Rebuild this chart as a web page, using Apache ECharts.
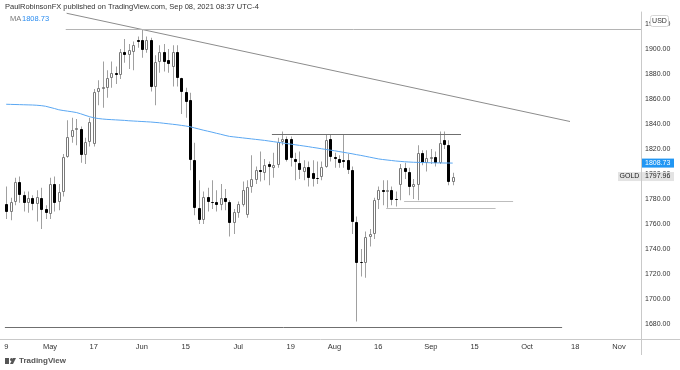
<!DOCTYPE html>
<html><head><meta charset="utf-8">
<script src="https://cdn.jsdelivr.net/npm/echarts@6/dist/echarts.min.js"></script>
<style>html,body{margin:0;padding:0;background:#fff}#c{width:680px;height:370px}</style>
</head><body><div id="c"></div>
<script>
// ---- data ----
const dates = ["Apr 19","Apr 20","Apr 21","Apr 22","Apr 23","Apr 26","Apr 27","Apr 28","Apr 29","Apr 30",
"May 3","May 4","May 5","May 6","May 7","May 10","May 11","May 12","May 13","May 14","May 17","May 18","May 19","May 20","May 21","May 24","May 25","May 26","May 27","May 28","May 31",
"Jun 1","Jun 2","Jun 3","Jun 4","Jun 7","Jun 8","Jun 9","Jun 10","Jun 11","Jun 14","Jun 15","Jun 16","Jun 17","Jun 18","Jun 21","Jun 22","Jun 23","Jun 24","Jun 25","Jun 28","Jun 29","Jun 30",
"Jul 1","Jul 2","Jul 5","Jul 6","Jul 7","Jul 8","Jul 9","Jul 12","Jul 13","Jul 14","Jul 15","Jul 16","Jul 19","Jul 20","Jul 21","Jul 22","Jul 23","Jul 26","Jul 27","Jul 28","Jul 29","Jul 30",
"Aug 2","Aug 3","Aug 4","Aug 5","Aug 6","Aug 9","Aug 10","Aug 11","Aug 12","Aug 13","Aug 16","Aug 17","Aug 18","Aug 19","Aug 20","Aug 23","Aug 24","Aug 25","Aug 26","Aug 27","Aug 30","Aug 31",
"Sep 1","Sep 2","Sep 3","Sep 6","Sep 7","Sep 8"];
const firstDay = -10; // trading-day number of Apr 19 (May 3 = 0)
const opens = [1776,1770,1778,1794,1783,1777,1781,1776,1781,1772,
1768,1792,1778,1786,1814,1830,1835,1836,1815,1826,1824,1866,1868,1869,1877,1881,1879,1898,1895,1898,1907.5,
1907,1899,1907,1870,1890,1898,1891,1886,1898,1877,1866,1859,1811,1773,1763,1782,1778,1778,1775,1781,1778,1761,
1769,1775,1767,1790,1795,1803,1801,1808,1805,1807,1826,1828,1828,1812,1809,1802,1806,1801,1797,1798,1806,1828,
1814,1812,1811,1811,1803,1762,1730,1729,1750,1752,1779,1787,1786,1787,1780,1791,1805,1802,1790,1791,1817,1809,
1812,1814,1809,1827,1823,1794];
const closes = [1770,1778,1794,1783,1777,1781,1776,1782,1771,1769,
1792,1777,1786,1814,1830,1835,1837,1815,1826,1842,1866,1869,1870,1877,1881,1879,1898,1895,1899,1903,1906,
1899,1907,1870,1890,1898,1890,1888,1898,1877,1866,1858,1811,1773,1763,1782,1778,1777,1775,1781,1778,1761,1770,
1776,1787,1790,1796,1803,1802,1807,1806,1807,1826,1828,1811,1813,1810,1803,1806,1797,1796,1796,1806,1827,1814,
1812,1809,1810,1803,1762,1729,1729,1750,1752,1779,1787,1786,1787,1779,1779,1805,1802,1790,1792,1817,1809,1813,
1814,1809,1825,1823,1794,1797.96];
const lows = [1764,1763,1775,1777,1770,1769,1771,1762,1756,1764,
1764,1770,1771,1782,1813,1825,1823,1809,1808,1822,1822,1855,1853,1861,1869,1872,1876,1889,1884,1883,1901,
1893,1897,1866,1855,1881,1882,1881,1870,1870,1848,1845,1803,1767,1760,1760,1770,1772,1770,1771,1771,1750,1752,
1765,1774,1765,1785,1792,1794,1795,1791,1797,1805,1823,1810,1806,1795,1796,1795,1790,1790,1792,1795,1805,1810,
1805,1805,1805,1800,1752,1682,1718,1717,1742,1748,1772,1775,1773,1775,1774,1779,1796,1783,1780,1779,1807,1802,
1808,1806,1808,1820,1791,1791];
const highs = [1790,1781,1797,1798,1786,1786,1783,1787,1789,1775,
1797,1798,1792,1816,1843,1845,1844,1838,1829,1845,1868,1875,1890,1883,1890,1886,1900,1908,1904,1906,1910,
1916,1910,1909,1895,1903,1904,1900,1903,1903,1877,1869,1865,1825,1795,1786,1789,1795,1787,1792,1788,1779,1772,
1778,1794,1795,1815,1806,1818,1812,1810,1817,1829,1834,1830,1830,1817,1818,1811,1810,1811,1810,1810,1832,1832,
1817,1815,1832,1816,1806,1766,1740,1754,1756,1781,1790,1795,1795,1790,1786,1808,1809,1805,1796,1823,1819,1819,
1820,1818,1834,1834,1827,1801];
const maValues = [1855.8,1855.7,1855.6,1855.5,1855.4,1855.3,1855.2,1855.0,1854.7,1854.2,
1853.3,1852.4,1851.4,1850.8,1850.3,1849.8,1849.2,1848.2,1847.0,1845.9,1845.0,1844.4,1844.0,1843.7,1843.5,1843.3,1843.1,1842.9,1842.6,1842.4,1842.2,
1842.0,1841.8,1841.6,1841.3,1841.0,1840.6,1840.2,1839.8,1839.4,1838.9,1838.4,1837.8,1836.9,1836.0,1835.1,1834.3,1833.5,1832.6,1831.8,1830.9,1830.1,1829.7,
1829.3,1828.9,1828.5,1828.1,1827.7,1827.3,1826.9,1826.4,1825.9,1825.4,1824.9,1824.4,1823.9,1823.4,1822.9,1822.4,1821.9,1821.3,1820.8,1820.2,1819.7,1819.1,
1818.6,1818.0,1817.4,1816.8,1816.2,1815.5,1814.9,1814.2,1813.5,1812.8,1812.1,1811.6,1811.2,1810.8,1810.4,1810.1,1809.8,1809.6,1809.4,1809.3,1809.2,1809.1,
1809.0,1808.9,1808.9,1808.8,1808.8,1808.73];
const tickDays   = [-10, 0, 10, 21, 31, 43, 55, 65, 75, 87, 97, 109, 120, 130];
const tickLabels = ["9","May","17","Jun","15","Jul","19","Aug","16","Sep","15","Oct","18","Nov"];
const priceTicks = [1680,1700,1720,1740,1760,1780,1800,1820,1840,1860,1880,1900,1920];
// drawn lines: [day1, price1, day2, price2]
const drawnLines = [
  [3.8, 1928.6, 118.8, 1842.0],   // falling trend line
  [3.6, 1915.8, 135.0, 1915.8],   // top horizontal
  [50.7, 1831.8, 93.9, 1831.8],   // resistance
  [80.9, 1778.6, 105.8, 1778.6],  // support upper
  [76.8, 1772.8, 101.8, 1772.8],  // support lower
  [-10.3, 1677.6, 117.0, 1677.6]  // bottom line
];
const lineColors = ['#8c8c8c','#b4b4b4','#6f6f6f','#bdbdbd','#bdbdbd','#6f6f6f'];

// ---- chart ----
const FONT = "'Liberation Sans', Arial, sans-serif";
const chart = echarts.init(document.getElementById('c'), null, {renderer:'canvas'});
const candleData = dates.map((d,k)=>[k+firstDay, opens[k], closes[k], lows[k], highs[k]]);
const maData = maValues.map((v,k)=>[k+firstDay, v]);
const labelMap = {}; tickDays.forEach((d,k)=>labelMap[d]=tickLabels[k]);

chart.setOption({
  animation:false,
  grid:{left:0, right:39, top:12, bottom:31},
  xAxis:{type:'value', min:-11.42, max:135.02,
    axisLine:{show:true, onZero:false, lineStyle:{color:'#c9c9c9'}},
    axisTick:{show:false}, splitLine:{show:false},
    axisLabel:{customValues:tickDays, formatter:v=>labelMap[v]||'', color:'#333', fontSize:7.5, fontFamily:FONT, margin:4}
  },
  yAxis:{type:'value', position:'right', min:1668, max:1929.6, scale:true,
    axisLine:{show:true, onZero:false, lineStyle:{color:'#c9c9c9'}},
    axisTick:{show:false}, splitLine:{show:false},
    axisLabel:{customValues:priceTicks, formatter:v=>Number(v).toFixed(2), color:'#333', fontSize:7, fontFamily:FONT, margin:4}
  },
  series:[
    {type:'custom', clip:true, data:candleData, encode:{x:0,y:[1,2,3,4]},
     renderItem:function(params, api){
       const x=api.value(0), o=api.value(1), c=api.value(2), l=api.value(3), h=api.value(4);
       const pO=api.coord([x,o]), pC=api.coord([x,c]), pL=api.coord([x,l]), pH=api.coord([x,h]);
       const xc=Math.round(pO[0]);
       const up=c>=o;
       const top=Math.round(Math.min(pO[1],pC[1])), bot=Math.round(Math.max(pO[1],pC[1]));
       const hgt=Math.max(bot-top,1);
       return {type:'group', children:[
         {type:'line', shape:{x1:xc+0.5,y1:pH[1],x2:xc+0.5,y2:pL[1]}, style:{stroke:'#a0a0a0',lineWidth:1}},
         {type:'rect', shape:{x:xc-0.5,y:top+0.5,width:2,height:Math.max(hgt-1,0)},
          style:{fill:up?'#ffffff':'#000000', stroke:up?'#7a7a7a':'#000000', lineWidth:1}}
       ]};
     }},
    {type:'line', data:maData, showSymbol:false, symbol:'none', clip:true,
     lineStyle:{color:'#5aa7f2', width:1}, silent:true,
     markLine:{silent:true, symbol:'none', label:{show:false}, animation:false,
       data: drawnLines.map((s,k)=>[
         {coord:[s[0],s[1]], lineStyle:{color:lineColors[k], width:1, type:'solid'}},
         {coord:[s[2],s[3]]}
       ])}
    }
  ]
});

// badges placed through the chart's own scale
const lastK = dates.length-1;
const yMA = chart.convertToPixel({gridIndex:0}, [lastK+firstDay, maValues[lastK]])[1];
const yPx = chart.convertToPixel({gridIndex:0}, [lastK+firstDay, closes[lastK]])[1];
chart.setOption({graphic:[
  {type:'text', left:5, top:3, style:{text:'PaulRobinsonFX published on TradingView.com, Sep 08, 2021 08:37 UTC-4', fill:'#333', font:'7.5px '+FONT}},
  {type:'text', left:10, top:15, style:{text:'MA', fill:'#777', font:'7.5px '+FONT}},
  {type:'text', left:22, top:15, style:{text:maValues[lastK].toFixed(2), fill:'#2a8cf0', font:'7.5px '+FONT}},
  {type:'line', shape:{x1:641.5,y1:339,x2:641.5,y2:355}, style:{stroke:'#c9c9c9',lineWidth:1}},
  {type:'line', shape:{x1:641,y1:339.5,x2:680,y2:339.5}, style:{stroke:'#c9c9c9',lineWidth:1}},
  {type:'rect', shape:{x:650.5,y:15.5,width:18,height:11,r:2}, style:{fill:'#fff',stroke:'#d6d6d6',lineWidth:1}, z:100},
  {type:'text', x:659.5, y:21, z:101, style:{text:'USD', fill:'#333', font:'7px '+FONT, textAlign:'center', textVerticalAlign:'middle'}},
  {type:'rect', shape:{x:642,y:yMA-4.5,width:32,height:9}, style:{fill:'#2196f3'}, z:100},
  {type:'text', x:645, y:yMA, z:101, style:{text:maValues[lastK].toFixed(2), fill:'#fff', font:'7px '+FONT, textVerticalAlign:'middle'}},
  {type:'rect', shape:{x:618,y:yPx-4.5,width:23,height:9}, style:{fill:'#e3e3e3'}, z:100},
  {type:'text', x:629.5, y:yPx, z:101, style:{text:'GOLD', fill:'#222', font:'7px '+FONT, textAlign:'center', textVerticalAlign:'middle'}},
  {type:'rect', shape:{x:642,y:yPx-4.5,width:32,height:9}, style:{fill:'#e3e3e3'}, z:100},
  {type:'text', x:645, y:yPx, z:101, style:{text:closes[lastK].toFixed(2), fill:'#222', font:'7px '+FONT, textVerticalAlign:'middle'}},
  {type:'group', left:5, top:357, children:[
    {type:'rect', shape:{x:0,y:1,width:4,height:6}, style:{fill:'#555'}},
    {type:'circle', shape:{cx:6.5,cy:2.5,r:1.5}, style:{fill:'#555'}},
    {type:'polygon', shape:{points:[[5,7],[8,1],[11,1],[8,7]]}, style:{fill:'#555'}},
    {type:'text', x:14, y:0, style:{text:'TradingView', fill:'#555', font:'bold 8px '+FONT}}
  ]}
]});
</script></body></html>
